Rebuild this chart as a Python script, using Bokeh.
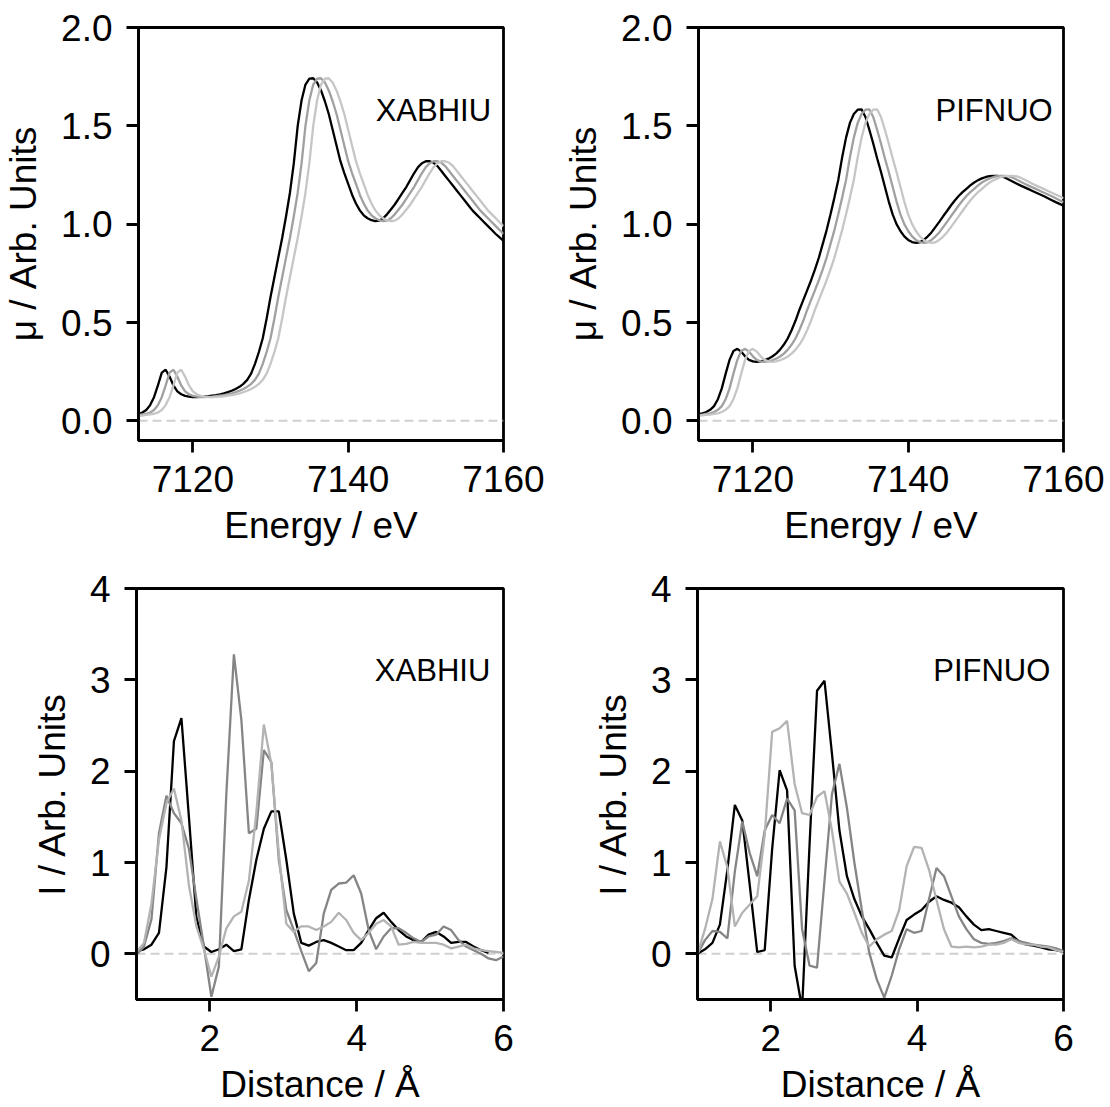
from bokeh.plotting import figure
from bokeh.layouts import column, row
from bokeh.models import Range1d, FixedTicker, PrintfTickFormatter, Span, Label
from bokeh.embed import file_html
from bokeh.resources import INLINE

# ---------------- XANES (top panels) ----------------
ENERGY = [
    7113.0, 7113.5, 7114.0, 7114.5, 7115.0, 7115.5, 7116.0, 7116.5, 7117.0, 7117.5,
    7118.0, 7118.5, 7119.0, 7119.5, 7120.0, 7120.5, 7121.0, 7121.5, 7122.0, 7122.5,
    7123.0, 7123.5, 7124.0, 7124.5, 7125.0, 7125.5, 7126.0, 7126.5, 7127.0, 7127.5,
    7128.0, 7128.5, 7129.0, 7129.5, 7130.0, 7130.5, 7131.0, 7131.5, 7132.0, 7132.5,
    7133.0, 7133.5, 7134.0, 7134.5, 7135.0, 7135.5, 7136.0, 7136.5, 7137.0, 7137.5,
    7138.0, 7138.5, 7139.0, 7139.5, 7140.0, 7140.5, 7141.0, 7141.5, 7142.0, 7142.5,
    7143.0, 7143.5, 7144.0, 7144.5, 7145.0, 7145.5, 7146.0, 7146.5, 7147.0, 7147.5,
    7148.0, 7148.5, 7149.0, 7149.5, 7150.0, 7150.5, 7151.0, 7151.5, 7152.0, 7152.5,
    7153.0, 7153.5, 7154.0, 7154.5, 7155.0, 7155.5, 7156.0, 7156.5, 7157.0, 7157.5,
    7158.0, 7158.5, 7159.0, 7159.5, 7160.0]

XAB_MU_BLACK = [
    0.036, 0.042, 0.055, 0.080, 0.120, 0.180, 0.245, 0.260, 0.225, 0.180,
    0.150, 0.135, 0.127, 0.123, 0.121, 0.121, 0.122, 0.123, 0.125, 0.128,
    0.131, 0.135, 0.140, 0.146, 0.153, 0.162, 0.173, 0.188, 0.208, 0.240,
    0.290, 0.350, 0.420, 0.520, 0.630, 0.730, 0.830, 0.930, 1.040, 1.160,
    1.310, 1.500, 1.630, 1.710, 1.740, 1.742, 1.720, 1.680, 1.625, 1.560,
    1.480, 1.400, 1.320, 1.260, 1.205, 1.150, 1.105, 1.070, 1.045, 1.030,
    1.020, 1.015, 1.018, 1.030, 1.050, 1.075, 1.100, 1.130, 1.160, 1.190,
    1.225, 1.260, 1.290, 1.310, 1.320, 1.320, 1.312, 1.295, 1.270, 1.245,
    1.220, 1.195, 1.170, 1.145, 1.120, 1.095, 1.070, 1.050, 1.030, 1.010,
    0.990, 0.970, 0.950, 0.933, 0.915]

XAB_MU_GREY = [
    0.030, 0.033, 0.036, 0.042, 0.055, 0.080, 0.120, 0.180, 0.245, 0.260,
    0.225, 0.180, 0.150, 0.135, 0.127, 0.123, 0.121, 0.121, 0.122, 0.123,
    0.125, 0.128, 0.131, 0.135, 0.140, 0.146, 0.153, 0.162, 0.173, 0.188,
    0.208, 0.240, 0.290, 0.350, 0.420, 0.520, 0.630, 0.730, 0.830, 0.930,
    1.040, 1.160, 1.310, 1.500, 1.630, 1.710, 1.740, 1.742, 1.720, 1.680,
    1.625, 1.560, 1.480, 1.400, 1.320, 1.260, 1.205, 1.150, 1.105, 1.070,
    1.045, 1.030, 1.020, 1.015, 1.018, 1.030, 1.050, 1.075, 1.100, 1.130,
    1.160, 1.190, 1.225, 1.260, 1.290, 1.310, 1.320, 1.320, 1.312, 1.295,
    1.270, 1.245, 1.220, 1.195, 1.170, 1.145, 1.120, 1.095, 1.070, 1.050,
    1.030, 1.010, 0.990, 0.970, 0.950]

XAB_MU_LIGHT = [
    0.025, 0.027, 0.030, 0.033, 0.036, 0.042, 0.055, 0.080, 0.120, 0.180,
    0.245, 0.260, 0.225, 0.180, 0.150, 0.135, 0.127, 0.123, 0.121, 0.121,
    0.122, 0.123, 0.125, 0.128, 0.131, 0.135, 0.140, 0.146, 0.153, 0.162,
    0.173, 0.188, 0.208, 0.240, 0.290, 0.350, 0.420, 0.520, 0.630, 0.730,
    0.830, 0.930, 1.040, 1.160, 1.310, 1.500, 1.630, 1.710, 1.740, 1.742,
    1.720, 1.680, 1.625, 1.560, 1.480, 1.400, 1.320, 1.260, 1.205, 1.150,
    1.105, 1.070, 1.045, 1.030, 1.020, 1.015, 1.018, 1.030, 1.050, 1.075,
    1.100, 1.130, 1.160, 1.190, 1.225, 1.260, 1.290, 1.310, 1.320, 1.320,
    1.312, 1.295, 1.270, 1.245, 1.220, 1.195, 1.170, 1.145, 1.120, 1.095,
    1.070, 1.050, 1.030, 1.010, 0.990]

PIF_MU_BLACK = [
    0.035, 0.038, 0.045, 0.056, 0.075, 0.110, 0.165, 0.240, 0.310, 0.355,
    0.366, 0.352, 0.328, 0.310, 0.302, 0.300, 0.302, 0.308, 0.316, 0.327,
    0.342, 0.362, 0.388, 0.420, 0.462, 0.510, 0.565, 0.615, 0.665, 0.715,
    0.770, 0.830, 0.900, 0.970, 1.050, 1.135, 1.225, 1.340, 1.440, 1.515,
    1.560, 1.582, 1.584, 1.545, 1.480, 1.410, 1.335, 1.265, 1.190, 1.115,
    1.050, 1.000, 0.965, 0.938, 0.920, 0.909, 0.905, 0.908, 0.920, 0.937,
    0.958, 0.985, 1.012, 1.040, 1.067, 1.095, 1.120, 1.143, 1.163, 1.180,
    1.197, 1.212, 1.224, 1.233, 1.240, 1.244, 1.246, 1.246, 1.243, 1.236,
    1.226, 1.216, 1.206, 1.196, 1.187, 1.178, 1.169, 1.160, 1.151, 1.142,
    1.132, 1.122, 1.112, 1.103, 1.094]

PIF_MU_GREY = [
    0.030, 0.032, 0.035, 0.038, 0.045, 0.056, 0.075, 0.110, 0.165, 0.240,
    0.310, 0.355, 0.366, 0.352, 0.328, 0.310, 0.302, 0.300, 0.302, 0.308,
    0.316, 0.327, 0.342, 0.362, 0.388, 0.420, 0.462, 0.510, 0.565, 0.615,
    0.665, 0.715, 0.770, 0.830, 0.900, 0.970, 1.050, 1.135, 1.225, 1.340,
    1.440, 1.515, 1.560, 1.582, 1.584, 1.545, 1.480, 1.410, 1.335, 1.265,
    1.190, 1.115, 1.050, 1.000, 0.965, 0.938, 0.920, 0.909, 0.905, 0.908,
    0.920, 0.937, 0.958, 0.985, 1.012, 1.040, 1.067, 1.095, 1.120, 1.143,
    1.163, 1.180, 1.197, 1.212, 1.224, 1.233, 1.240, 1.244, 1.246, 1.246,
    1.243, 1.236, 1.226, 1.216, 1.206, 1.196, 1.187, 1.178, 1.169, 1.160,
    1.151, 1.142, 1.132, 1.122, 1.112]

PIF_MU_LIGHT = [
    0.026, 0.028, 0.030, 0.032, 0.035, 0.038, 0.045, 0.056, 0.075, 0.110,
    0.165, 0.240, 0.310, 0.355, 0.366, 0.352, 0.328, 0.310, 0.302, 0.300,
    0.302, 0.308, 0.316, 0.327, 0.342, 0.362, 0.388, 0.420, 0.462, 0.510,
    0.565, 0.615, 0.665, 0.715, 0.770, 0.830, 0.900, 0.970, 1.050, 1.135,
    1.225, 1.340, 1.440, 1.515, 1.560, 1.582, 1.584, 1.545, 1.480, 1.410,
    1.335, 1.265, 1.190, 1.115, 1.050, 1.000, 0.965, 0.938, 0.920, 0.909,
    0.905, 0.908, 0.920, 0.937, 0.958, 0.985, 1.012, 1.040, 1.067, 1.095,
    1.120, 1.143, 1.163, 1.180, 1.197, 1.212, 1.224, 1.233, 1.240, 1.244,
    1.246, 1.246, 1.243, 1.236, 1.226, 1.216, 1.206, 1.196, 1.187, 1.178,
    1.169, 1.160, 1.151, 1.142, 1.132]

# ---------------- radial distribution (bottom panels) ----------------
DIST = [
    1.000, 1.102, 1.204, 1.306, 1.408, 1.510, 1.612, 1.714, 1.816, 1.918,
    2.020, 2.122, 2.224, 2.327, 2.429, 2.531, 2.633, 2.735, 2.837, 2.939,
    3.041, 3.143, 3.245, 3.347, 3.449, 3.551, 3.653, 3.755, 3.857, 3.959,
    4.061, 4.163, 4.265, 4.367, 4.469, 4.571, 4.673, 4.776, 4.878, 4.980,
    5.082, 5.184, 5.286, 5.388, 5.490, 5.592, 5.694, 5.796, 5.898, 6.000]

XAB_I_BLACK = [
    0.03, 0.05, 0.10, 0.23, 0.95, 2.33, 2.58, 1.50, 0.40, 0.08,
    0.02, 0.05, 0.10, 0.03, 0.05, 0.59, 1.03, 1.37, 1.56, 1.56,
    1.03, 0.44, 0.12, 0.09, 0.13, 0.15, 0.12, 0.08, 0.04, 0.04,
    0.12, 0.26, 0.39, 0.45, 0.35, 0.26, 0.19, 0.15, 0.13, 0.21,
    0.24, 0.19, 0.12, 0.13, 0.13, 0.08, 0.04, 0.01]

XAB_I_GREY = [
    -0.01, 0.08, 0.38, 1.32, 1.73, 1.54, 1.43, 1.15, 0.60, 0.08,
    -0.47, -0.14, 1.75, 3.28, 2.56, 1.32, 1.37, 2.23, 2.10, 1.03,
    0.48, 0.26, 0.03, -0.19, -0.10, 0.44, 0.70, 0.77, 0.78, 0.86,
    0.66, 0.26, 0.05, 0.19, 0.28, 0.28, 0.23, 0.17, 0.13, 0.19,
    0.21, 0.30, 0.26, 0.15, 0.08, 0.04, 0.00, -0.05, -0.07, -0.03]

XAB_I_LIGHT = [
    0.02, 0.12, 0.55, 1.25, 1.65, 1.81, 1.46, 0.75, 0.30, 0.05,
    -0.25, -0.03, 0.28, 0.41, 0.46, 0.80, 1.55, 2.51, 2.08, 1.10,
    0.33, 0.24, 0.30, 0.30, 0.26, 0.30, 0.35, 0.45, 0.37, 0.23,
    0.15, 0.23, 0.33, 0.37, 0.30, 0.10, 0.11, 0.13, 0.12, 0.12,
    0.12, 0.10, 0.06, 0.08, 0.10, 0.06, 0.04, 0.03, 0.02, 0.01]

PIF_I_BLACK = [
    0.00, 0.05, 0.12, 0.32, 0.92, 1.63, 1.46, 0.75, 0.02, 0.04,
    1.15, 2.01, 1.79, -0.13, -0.60, 1.20, 2.88, 2.99, 2.19, 1.35,
    0.85, 0.60, 0.41, 0.27, 0.12, -0.02, -0.04, 0.17, 0.37, 0.43,
    0.48, 0.57, 0.63, 0.59, 0.56, 0.51, 0.41, 0.32, 0.26, 0.27,
    0.25, 0.23, 0.21, 0.14, 0.10, 0.09, 0.07, 0.05, 0.04, 0.02]

PIF_I_GREY = [
    0.00, 0.15, 0.25, 0.24, 0.17, 0.90, 1.45, 1.10, 0.85, 1.35,
    1.52, 1.43, 1.70, 1.57, 0.27, -0.13, -0.15, 0.80, 1.75, 2.08,
    1.60, 1.00, 0.48, 0.01, -0.28, -0.48, -0.24, 0.05, 0.27, 0.23,
    0.25, 0.60, 0.94, 0.85, 0.63, 0.41, 0.27, 0.16, 0.12, 0.11,
    0.12, 0.14, 0.17, 0.14, 0.12, 0.10, 0.09, 0.08, 0.06, 0.03]

PIF_I_LIGHT = [
    0.00, 0.27, 0.60, 1.23, 0.95, 0.30, 0.45, 0.54, 0.63, 1.30,
    2.43, 2.47, 2.55, 1.86, 1.54, 1.52, 1.72, 1.78, 1.35, 0.79,
    0.66, 0.45, 0.23, 0.08, 0.16, 0.21, 0.25, 0.48, 0.96, 1.17,
    1.16, 0.92, 0.59, 0.27, 0.08, 0.07, 0.08, 0.07, 0.08, 0.10,
    0.10, 0.12, 0.16, 0.12, 0.10, 0.10, 0.08, 0.07, 0.04, 0.02]

E_TICKS = [7120, 7140, 7160]
MU_TICKS = [0.0, 0.5, 1.0, 1.5, 2.0]
R_TICKS = [2, 4, 6]
I_TICKS = [0, 1, 2, 3, 4]

FONT = "Liberation Sans"
TOP_GREY, TOP_LIGHT = "#a0a0a0", "#c6c6c6"
BOT_GREY, BOT_LIGHT = "#858585", "#b3b3b3"
LW = 2.3


def make_fig(width, height, left, right, top, bottom, xr, yr, xticks, yticks,
             xfmt, yfmt, xlabel, ylabel):
    p = figure(width=width, height=height,
               x_range=Range1d(xr[0], xr[1]), y_range=Range1d(yr[0], yr[1]),
               output_backend="svg", toolbar_location=None, tools="",
               min_border_left=left, min_border_right=right,
               min_border_top=top, min_border_bottom=bottom)
    p.background_fill_color = "white"
    p.border_fill_color = "white"
    p.xgrid.visible = False
    p.ygrid.visible = False
    p.outline_line_color = "black"
    p.outline_line_width = 2.8
    p.outline_line_alpha = 1.0
    for ax in (p.xaxis[0], p.yaxis[0]):
        ax.axis_line_color = "black"
        ax.axis_line_width = 2.8
        ax.major_tick_line_color = "black"
        ax.major_tick_line_width = 2.8
        ax.major_tick_out = 12
        ax.major_tick_in = 0
        ax.minor_tick_line_color = None
        ax.major_label_text_font = FONT
        ax.major_label_text_font_size = "37px"
        ax.major_label_text_color = "black"
        ax.axis_label_text_font = FONT
        ax.axis_label_text_font_size = "37px"
        ax.axis_label_text_font_style = "normal"
        ax.axis_label_text_color = "black"
    p.xaxis[0].ticker = FixedTicker(ticks=xticks)
    p.yaxis[0].ticker = FixedTicker(ticks=yticks)
    p.xaxis[0].formatter = PrintfTickFormatter(format=xfmt)
    p.yaxis[0].formatter = PrintfTickFormatter(format=yfmt)
    p.xaxis[0].major_label_standoff = 13
    p.yaxis[0].major_label_standoff = 14
    p.xaxis[0].axis_label_standoff = 10
    p.yaxis[0].axis_label_standoff = 14
    p.xaxis[0].axis_label = xlabel
    p.yaxis[0].axis_label = ylabel
    zero = Span(location=0, dimension="width", line_color="#d0d0d0",
                line_width=2, line_dash="9 5", level="underlay")
    p.add_layout(zero)
    return p


def add_name(p, x, y, text):
    p.add_layout(Label(x=x, y=y, text=text, text_align="right",
                       text_baseline="alphabetic", text_font=FONT,
                       text_font_size="31px", text_color="black"))


# top-left
p1 = make_fig(560, 552, 136, 57, 27, 112, (7113, 7160), (-0.1, 2.0),
              E_TICKS, MU_TICKS, "%d", "%.1f", "Energy / eV", "μ / Arb. Units")
p1.line(ENERGY, XAB_MU_BLACK, line_color="black", line_width=LW)
p1.line(ENERGY, XAB_MU_GREY, line_color=TOP_GREY, line_width=LW)
p1.line(ENERGY, XAB_MU_LIGHT, line_color=TOP_LIGHT, line_width=LW)
add_name(p1, 7158.4, 1.578, "XABHIU")

# top-right
p2 = make_fig(548, 552, 137, 45, 27, 112, (7113, 7160), (-0.1, 2.0),
              E_TICKS, MU_TICKS, "%d", "%.1f", "Energy / eV", "μ / Arb. Units")
p2.line(ENERGY, PIF_MU_BLACK, line_color="black", line_width=LW)
p2.line(ENERGY, PIF_MU_GREY, line_color=TOP_GREY, line_width=LW)
p2.line(ENERGY, PIF_MU_LIGHT, line_color=TOP_LIGHT, line_width=LW)
add_name(p2, 7158.6, 1.578, "PIFNUO")

# bottom-left
p3 = make_fig(560, 555, 136, 57, 36, 107, (1, 6), (-0.5, 4),
              R_TICKS, I_TICKS, "%d", "%d", "Distance / Å", "I / Arb. Units")
p3.line(DIST[:len(XAB_I_BLACK)], XAB_I_BLACK, line_color="black", line_width=LW)
p3.line(DIST, XAB_I_GREY, line_color=BOT_GREY, line_width=LW)
p3.line(DIST, XAB_I_LIGHT, line_color=BOT_LIGHT, line_width=LW)
add_name(p3, 5.82, 3.10, "XABHIU")

# bottom-right
p4 = make_fig(548, 555, 137, 45, 36, 107, (1, 6), (-0.5, 4),
              R_TICKS, I_TICKS, "%d", "%d", "Distance / Å", "I / Arb. Units")
p4.line(DIST, PIF_I_BLACK, line_color="black", line_width=LW)
p4.line(DIST, PIF_I_GREY, line_color=BOT_GREY, line_width=LW)
p4.line(DIST, PIF_I_LIGHT, line_color=BOT_LIGHT, line_width=LW)
add_name(p4, 5.82, 3.10, "PIFNUO")

layout = column(row(p1, p2), row(p3, p4))
open("out.html", "w").write(file_html(layout, INLINE))
